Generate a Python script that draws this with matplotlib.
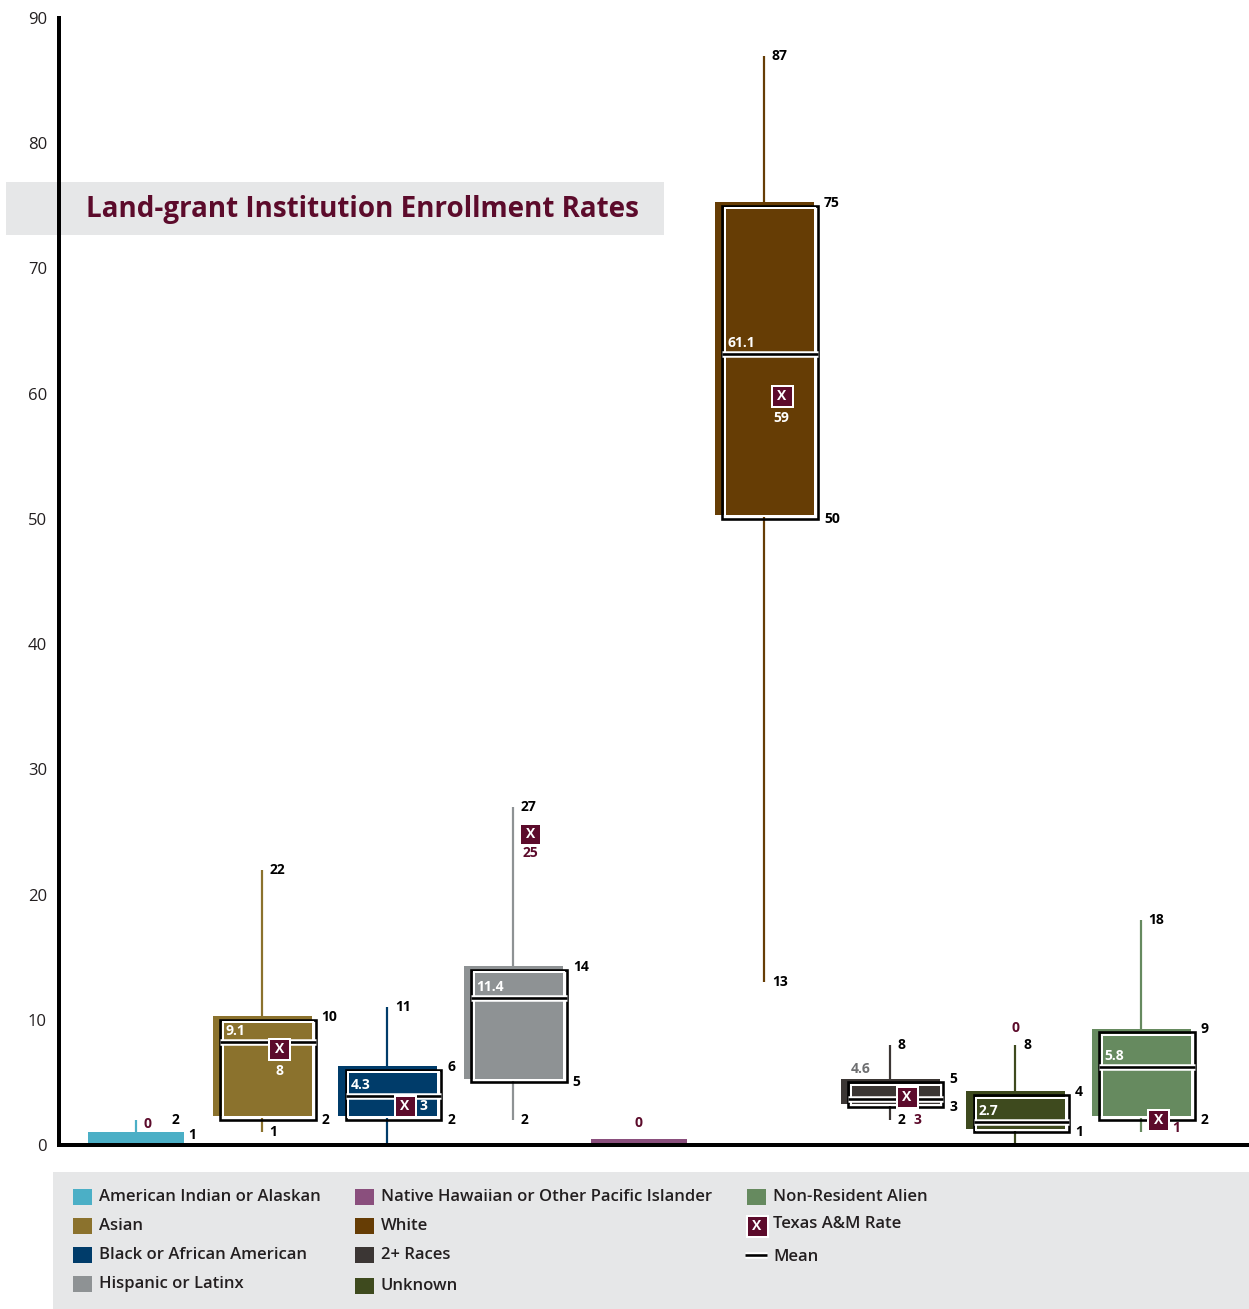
import matplotlib
matplotlib.use('Agg')
import matplotlib.pyplot as plt
from matplotlib.patches import Rectangle
from matplotlib.lines import Line2D

# ---------------- data ----------------
categories = ["American Indian or Alaskan", "Asian", "Black or African American",
              "Hispanic or Latinx", "Native Hawaiian or Other Pacific Islander",
              "White", "2+ Races", "Unknown", "Non-Resident Alien"]
colors = ["#4bafc6", "#8b722d", "#003c6a", "#8e9294", "#8a4f7d",
          "#663d05", "#3b3634", "#3e4a1e", "#668a5f"]
mins = [0, 1, 0, 2, None, 13, 2, 0, 1]
q1 = [0, 2, 2, 5, 0, 50, 3, 1, 2]
q3 = [1, 10, 6, 14, 0.5, 75, 5, 4, 9]
maxs = [2, 22, 11, 27, None, 87, 8, 8, 18]
mean_labels = [None, "9.1", "4.3", "11.4", None, "61.1", "4.6", "2.7", "5.8"]
mean_line = [None, 8.2, 3.9, 11.7, None, 63.2, 3.7, 1.8, 6.2]
tamu_labels = ["0", "8", "3", "25", "0", "59", "3", "0", "1"]
tamu_marker = [None, 7.7, 3.1, 24.8, None, 59.8, 3.8, None, 2.0]
show_min = [False, True, False, True, False, True, True, False, False]
outlined = [False, True, True, True, False, True, True, True, True]
yticks = [0, 10, 20, 30, 40, 50, 60, 70, 80, 90]
title = "Land-grant Institution Enrollment Rates"

MAROON = "#5c0b2b"
BAND = "#e6e7e8"
FONT = "Open Sans"

W, H = 1249, 1309
fig = plt.figure(figsize=(W / 100, H / 100), dpi=100)


def fx(x):
    return x / W


def fy(y):
    return 1 - y / H


def px(p):  # pixels -> points
    return p * 0.72


# title band & legend band behind axes
fig.patches.append(Rectangle((fx(6), fy(235)), fx(664) - fx(6), fy(182) - fy(235),
                             transform=fig.transFigure, fc=BAND, ec='none', zorder=-2))
fig.patches.append(Rectangle((fx(53), fy(1309)), fx(1249) - fx(53), fy(1172) - fy(1309),
                             transform=fig.transFigure, fc=BAND, ec='none', zorder=-2))

ax = fig.add_axes([fx(59), fy(1145), fx(1249) - fx(59), fy(18) - fy(1145)])
ax.set_facecolor('none')
ax.set_xlim(-0.614, 8.863)
ax.set_ylim(0, 90)
ax.set_yticks(yticks)
ax.set_yticklabels([str(t) for t in yticks], fontfamily=FONT, fontsize=12, color="#231f20")
ax.set_xticks([])
ax.tick_params(axis='y', length=0, pad=px(12))
for s in ['top', 'right']:
    ax.spines[s].set_visible(False)
ax.spines['left'].set_linewidth(px(4))
ax.spines['bottom'].set_linewidth(px(4))
ax.spines['left'].set_zorder(10)
ax.spines['bottom'].set_zorder(10)

LBL = dict(fontfamily=FONT, fontsize=10, fontweight='bold', textcoords='offset points',
           zorder=12, annotation_clip=False)

FILL_L, FILL_W = -0.39, 0.79
BOX_L, BOX_R = -0.33, 0.43
FILL_DY = 0.3

for i, cat in enumerate(categories):
    c = colors[i]
    # whisker
    if maxs[i] is not None:
        ax.plot([i, i], [mins[i], maxs[i]], color=c, lw=px(2.2), zorder=2, solid_capstyle='butt')
    if outlined[i]:
        ax.add_patch(Rectangle((i + FILL_L, q1[i] + FILL_DY), FILL_W, q3[i] - q1[i],
                               fc=c, ec='none', zorder=3))
        # outlined box: black with white inner stroke
        ax.add_patch(Rectangle((i + BOX_L, q1[i]), BOX_R - BOX_L, q3[i] - q1[i],
                               fc='none', ec='black', lw=px(2.6), zorder=4))
        dx, dy = 2.6 / 125.5, 2.6 / 12.52
        ax.add_patch(Rectangle((i + BOX_L + dx, q1[i] + dy), BOX_R - BOX_L - 2 * dx,
                               q3[i] - q1[i] - 2 * dy,
                               fc='none', ec='white', lw=px(2.0), zorder=4))
        # mean line
        ax.plot([i + BOX_L, i + BOX_R], [mean_line[i]] * 2, color='white', lw=px(6.5),
                zorder=5, solid_capstyle='butt')
        ax.plot([i + BOX_L, i + BOX_R], [mean_line[i]] * 2, color='black', lw=px(2.6),
                zorder=5.1, solid_capstyle='butt')
        # labels
        ax.annotate(str(q3[i]), xy=(i + BOX_R, q3[i]), xytext=(px(6), px(3)),
                    ha='left', va='center', color='black', **LBL)
        ax.annotate(str(q1[i]), xy=(i + BOX_R, q1[i]), xytext=(px(6), 0),
                    ha='left', va='center', color='black', **LBL)
        if q3[i] - q1[i] > 2.5:
            ax.annotate(mean_labels[i], xy=(i + BOX_L, mean_line[i]), xytext=(px(5), px(11)),
                        ha='left', va='center', color='white', **LBL)
        else:
            ax.annotate(mean_labels[i], xy=(i + BOX_L, q3[i] + FILL_DY), xytext=(px(3), px(10)),
                        ha='left', va='center', color='#6d6e70', **LBL)
    else:
        ax.add_patch(Rectangle((i - 0.38, q1[i]), 0.765, q3[i] - q1[i],
                               fc=c, ec='none', zorder=3))
    if maxs[i] is not None:
        dxm = px(35) if not outlined[i] else px(8)
        ax.annotate(str(maxs[i]), xy=(i, maxs[i]), xytext=(dxm, 0),
                    ha='left', va='center', color='black', **LBL)
    if show_min[i]:
        ax.annotate(str(mins[i]), xy=(i, mins[i]), xytext=(px(8), 0),
                    ha='left', va='center', color='black', **LBL)

# special labels for the two fill-only categories
ax.annotate(str(q3[0]), xy=(0.38, q3[0]), xytext=(px(4), px(-3)),
            ha='left', va='center', color='black', **LBL)
ax.annotate(tamu_labels[0], xy=(0, maxs[0]), xytext=(px(7), px(-4)),
            ha='left', va='center', color=MAROON, **LBL)
ax.annotate(tamu_labels[4], xy=(4, q3[4]), xytext=(0, px(16)),
            ha='center', va='center', color=MAROON, **LBL)
ax.annotate(tamu_labels[7], xy=(7, maxs[7]), xytext=(0, px(17)),
            ha='center', va='center', color=MAROON, **LBL)

# Texas A&M markers
XOFF = 0.14
tamu_place = {1: (0, -22, 'white'), 2: (19, 0, 'white'), 3: (0, -19, MAROON),
              5: (0, -22, 'white'), 6: (10, -23, MAROON), 8: (18, -8, MAROON)}
for i, v in enumerate(tamu_marker):
    if v is None:
        continue
    x = i + XOFF
    ax.plot([x], [v], marker='s', markersize=px(21), mfc=MAROON, mec='white',
            mew=px(2), zorder=8, linestyle='none')
    ax.annotate('X', xy=(x, v), xytext=(0, 0), ha='center', va='center',
                color='white', **LBL)
    ddx, ddy, col = tamu_place[i]
    ax.annotate(tamu_labels[i], xy=(x, v), xytext=(px(ddx), px(ddy)),
                ha='center', va='center', color=col, **LBL)

# title
fig.text(fx(362), fy(209), title, ha='center', va='center', fontfamily=FONT,
         fontsize=20, fontweight='bold', color=MAROON, zorder=20)

# legend
leg_pos = [(73, 1197), (73, 1226), (73, 1255), (73, 1284),
           (355, 1197), (355, 1226), (355, 1255), (355, 1286), (747, 1197)]
LT = dict(fontfamily=FONT, fontsize=12, fontweight='semibold', color='#231f20',
          ha='left', va='center', zorder=20)
for (x, y), cat, c in zip(leg_pos, categories, colors):
    fig.patches.append(Rectangle((fx(x), fy(y + 8)), fx(19), 16 / H,
                                 transform=fig.transFigure, fc=c, ec='none', zorder=5))
    fig.text(fx(x + 26), fy(y), cat, **LT)

# Texas A&M legend swatch
fig.lines.append(Line2D([fx(757)], [fy(1226)], marker='s', markersize=px(21), mfc=MAROON,
                        mec='white', mew=px(2), transform=fig.transFigure, zorder=6))
fig.text(fx(757), fy(1226), 'X', ha='center', va='center', color='white', fontfamily=FONT,
         fontsize=10, fontweight='bold', zorder=21)
fig.text(fx(773), fy(1224), 'Texas A&M Rate', **LT)
# Mean legend swatch
fig.lines.append(Line2D([fx(745), fx(767)], [fy(1255)] * 2, color='white', lw=px(6.5),
                        transform=fig.transFigure, zorder=6, solid_capstyle='butt'))
fig.lines.append(Line2D([fx(745), fx(767)], [fy(1255)] * 2, color='black', lw=px(2.6),
                        transform=fig.transFigure, zorder=7, solid_capstyle='butt'))
fig.text(fx(773), fy(1257), 'Mean', **LT)

fig.savefig('out.png', dpi=100)
